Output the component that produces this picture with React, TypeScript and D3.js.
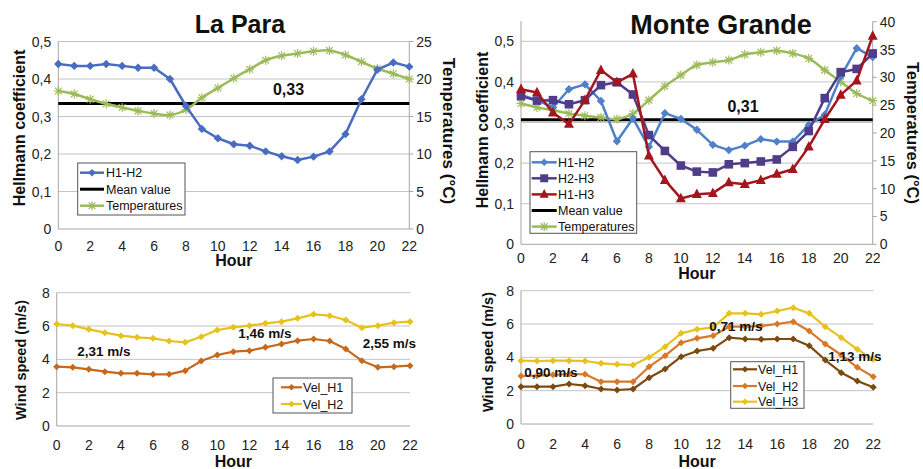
import React from "react";
import * as d3 from "d3";

// ---------- DATA ----------
const hours = [0, 1, 2, 3, 4, 5, 6, 7, 8, 9, 10, 11, 12, 13, 14, 15, 16, 17, 18, 19, 20, 21, 22];
const xTickLabels = [0, 2, 4, 6, 8, 10, 12, 14, 16, 18, 20, 22];

const hellTicksLP = [0, 0.1, 0.2, 0.3, 0.4, 0.5];
const tempTicksLP = [0, 5, 10, 15, 20, 25];
const hellTicksMG = [0, 0.1, 0.2, 0.3, 0.4, 0.5];
const tempTicksMG = [0, 5, 10, 15, 20, 25, 30, 35, 40];
const windTicks = [0, 2, 4, 6, 8];

const lpH1H2 = [0.44, 0.435, 0.435, 0.44, 0.435, 0.43, 0.43, 0.4, 0.328, 0.267, 0.242, 0.226, 0.222, 0.207, 0.194, 0.184, 0.193, 0.207, 0.253, 0.346, 0.425, 0.444, 0.433];
const lpTemp = [18.4, 18.0, 17.3, 16.7, 16.2, 15.75, 15.4, 15.2, 15.9, 17.5, 18.8, 20.1, 21.3, 22.5, 23.1, 23.4, 23.7, 23.8, 23.2, 22.3, 21.4, 20.7, 20.0];
const lpMean = 0.335;
const lpMeanLabel = "0,33";

const mgH1H2 = [0.368, 0.355, 0.337, 0.382, 0.394, 0.353, 0.254, 0.31, 0.24, 0.323, 0.309, 0.282, 0.245, 0.232, 0.243, 0.259, 0.253, 0.253, 0.294, 0.319, 0.413, 0.483, 0.461];
const mgH2H3 = [0.365, 0.354, 0.355, 0.345, 0.355, 0.392, 0.399, 0.369, 0.269, 0.23, 0.194, 0.179, 0.177, 0.197, 0.2, 0.204, 0.209, 0.24, 0.279, 0.36, 0.424, 0.432, 0.47];
const mgH1H3 = [0.382, 0.374, 0.324, 0.296, 0.355, 0.429, 0.399, 0.42, 0.218, 0.158, 0.113, 0.123, 0.126, 0.152, 0.148, 0.158, 0.173, 0.185, 0.24, 0.308, 0.368, 0.403, 0.513];
const mgTemp = [25.3, 24.6, 24.1, 23.5, 23.1, 22.8, 22.5, 23.5, 25.9, 28.4, 30.4, 32.2, 32.7, 33.1, 34.1, 34.5, 34.8, 34.3, 33.4, 31.3, 29.2, 27.1, 25.8];
const mgMean = 0.307;
const mgMeanLabel = "0,31";

const lpVelH1 = [3.56, 3.52, 3.4, 3.26, 3.16, 3.16, 3.1, 3.1, 3.32, 3.9, 4.26, 4.46, 4.52, 4.72, 4.92, 5.12, 5.22, 5.1, 4.62, 3.92, 3.52, 3.56, 3.62];
const lpVelH2 = [6.12, 6.02, 5.8, 5.6, 5.42, 5.32, 5.26, 5.1, 5.02, 5.36, 5.76, 5.92, 6.02, 6.16, 6.26, 6.46, 6.7, 6.62, 6.36, 5.9, 6.02, 6.2, 6.26];
const lpWindLabels = ["2,31 m/s", "1,46 m/s", "2,55 m/s"];

const mgVelH1 = [2.24, 2.24, 2.24, 2.4, 2.3, 2.1, 2.04, 2.1, 2.78, 3.3, 4.04, 4.38, 4.54, 5.18, 5.1, 5.08, 5.1, 5.1, 4.7, 3.84, 3.08, 2.58, 2.2];
const mgVelH2 = [2.88, 2.9, 2.95, 3.0, 2.98, 2.54, 2.54, 2.54, 3.44, 4.1, 4.88, 5.14, 5.3, 5.84, 5.84, 5.88, 6.0, 6.14, 5.58, 4.8, 4.14, 3.4, 2.84];
const mgVelH3 = [3.8, 3.78, 3.8, 3.8, 3.78, 3.64, 3.58, 3.54, 4.0, 4.64, 5.44, 5.68, 5.8, 6.64, 6.64, 6.58, 6.78, 6.98, 6.64, 5.84, 5.18, 4.48, 3.88];
const mgWindLabels = ["0,90 m/s", "0,71 m/s", "1,13 m/s"];

// ---------- STYLE ----------
const FONT = "'Liberation Sans', Arial, sans-serif";
const GRID = "#c4c4c4";
const AXIS = "#a6a6a6";
const C_BLUE_LP = "#4a6cc0";
const C_BLUE_MG = "#4f81c9";
const C_PURPLE = "#4f3d8a";
const C_RED = "#a3161e";
const C_GREEN = "#9bbb59";
const C_ORANGE = "#c4691e";
const C_YELLOW = "#e6c21e";
const C_BROWN = "#7b4a12";
const C_ORANGE2 = "#d6792a";

type Marker = "diamond" | "square" | "triangle" | "star" | "none";

function markerPath(m: Marker, s: number): string {
  if (m === "diamond") return `M0,${-s}L${s},0L0,${s}L${-s},0Z`;
  if (m === "square") return `M${-s},${-s}H${s}V${s}H${-s}Z`;
  if (m === "triangle") return `M0,${-s * 1.15}L${s},${s * 0.75}L${-s},${s * 0.75}Z`;
  if (m === "star") return `M${-s},0H${s}M0,${-s}V${s}M${-s * 0.75},${-s * 0.75}L${s * 0.75},${s * 0.75}M${-s * 0.75},${s * 0.75}L${s * 0.75},${-s * 0.75}`;
  return "";
}

function MarkerShape({ m, s, color, x, y }: { m: Marker; s: number; color: string; x: number; y: number }) {
  if (m === "none") return null;
  const d = markerPath(m, s);
  if (m === "star") return <path d={d} transform={`translate(${x},${y})`} stroke={color} strokeWidth={1.2} fill="none" />;
  return <path d={d} transform={`translate(${x},${y})`} fill={color} stroke="none" />;
}

type Series = { values: number[]; color: string; marker: Marker; ms: number; width: number; smooth?: boolean; axis?: "left" | "right" };

const fmtDec = (d: number) => (d === 0 ? "0" : d.toFixed(1).replace(".", ","));

function Series({ s, x, yl, yr }: { s: Series; x: d3.ScaleLinear<number, number>; yl: d3.ScaleLinear<number, number>; yr?: d3.ScaleLinear<number, number> }) {
  const y = s.axis === "right" && yr ? yr : yl;
  const line = d3
    .line<number>()
    .x((_, i) => x(hours[i]))
    .y((v) => y(v))
    .curve(s.smooth ? d3.curveCatmullRom.alpha(0.5) : d3.curveLinear);
  return (
    <g>
      <path d={line(s.values) || ""} fill="none" stroke={s.color} strokeWidth={s.width} strokeLinejoin="round" />
      {s.values.map((v, i) => (
        <MarkerShape key={i} m={s.marker} s={s.ms} color={s.color} x={x(hours[i])} y={y(v)} />
      ))}
    </g>
  );
}

type LegendItem = { label: string; color: string; marker: Marker; ms: number; width: number };

function Legend({ box, items, ys, lineX, textX }: { box: [number, number, number, number]; items: LegendItem[]; ys: number[]; lineX: [number, number]; textX: number }) {
  return (
    <g>
      <rect x={box[0]} y={box[1]} width={box[2] - box[0]} height={box[3] - box[1]} fill="#fff" stroke="#555" strokeWidth={1} />
      {items.map((it, i) => (
        <g key={i}>
          <line x1={lineX[0]} x2={lineX[1]} y1={ys[i]} y2={ys[i]} stroke={it.color} strokeWidth={it.width} />
          <MarkerShape m={it.marker} s={it.ms} color={it.color} x={(lineX[0] + lineX[1]) / 2} y={ys[i]} />
          <text x={textX} y={ys[i] + 4.5} fontSize={12.5} fontFamily={FONT} fill="#111">
            {it.label}
          </text>
        </g>
      ))}
    </g>
  );
}

type PanelProps = {
  xr: [number, number];
  y0: number;
  yTop: number;
  leftDomain: [number, number];
  leftTicks: number[];
  leftFmt: (d: number) => string;
  gridTicks: number[];
  rightDomain?: [number, number];
  rightTicks?: number[];
  rightTop?: number;
  xLabelDy: number;
  hourY: number;
  leftTitle: string;
  leftTitleX: number;
  leftTitleY: number;
  leftTitleSize: number;
  rightTitle?: string;
  rightTitleX?: number;
  rightTitleY?: number;
  rightTitleSize?: number;
  series: Series[];
  children?: (x: d3.ScaleLinear<number, number>, yl: d3.ScaleLinear<number, number>) => React.ReactNode;
  before?: (x: d3.ScaleLinear<number, number>, yl: d3.ScaleLinear<number, number>) => React.ReactNode;
};

function Panel(p: PanelProps) {
  const x = d3.scaleLinear().domain([0, 22]).range(p.xr);
  const yl = d3.scaleLinear().domain(p.leftDomain).range([p.y0, p.yTop]);
  const yr = p.rightDomain ? d3.scaleLinear().domain(p.rightDomain).range([p.y0, p.rightTop ?? p.yTop]) : undefined;
  const [xl, xrr] = p.xr;
  return (
    <g fontFamily={FONT}>
      {p.gridTicks.map((t) => (
        <line key={t} x1={xl} x2={xrr} y1={yl(t)} y2={yl(t)} stroke={GRID} strokeWidth={1} />
      ))}
      <line x1={xl} x2={xrr} y1={p.y0} y2={p.y0} stroke={AXIS} strokeWidth={1} />
      <line x1={xl} x2={xl} y1={p.y0} y2={p.yTop} stroke={AXIS} strokeWidth={1} />
      {yr && p.rightTicks && (
        <g>
          <line x1={xrr} x2={xrr} y1={p.y0} y2={yr(p.rightDomain![1])} stroke={AXIS} strokeWidth={1} />
          {p.rightTicks.map((t) => (
            <g key={t}>
              <line x1={xrr} x2={xrr + 4} y1={yr(t)} y2={yr(t)} stroke={AXIS} />
              <text x={xrr + 7} y={yr(t) + 5} fontSize={14} fill="#222">
                {t}
              </text>
            </g>
          ))}
        </g>
      )}
      {p.leftTicks.map((t) => (
        <text key={t} x={xl - 7} y={yl(t) + 5} fontSize={14} textAnchor="end" fill="#222">
          {p.leftFmt(t)}
        </text>
      ))}
      {xTickLabels.map((t) => (
        <text key={t} x={x(t)} y={p.y0 + p.xLabelDy} fontSize={14} textAnchor="middle" fill="#222">
          {t}
        </text>
      ))}
      <text x={(xl + xrr) / 2} y={p.hourY} fontSize={16} fontWeight="bold" textAnchor="middle" fill="#111">
        Hour
      </text>
      <text
        transform={`translate(${p.leftTitleX},${p.leftTitleY}) rotate(-90)`}
        fontSize={p.leftTitleSize}
        fontWeight="bold"
        textAnchor="middle"
        dominantBaseline="central"
        fill="#111"
      >
        {p.leftTitle}
      </text>
      {p.rightTitle && (
        <text
          transform={`translate(${p.rightTitleX},${p.rightTitleY}) rotate(90)`}
          fontSize={p.rightTitleSize ?? 17}
          fontWeight="bold"
          textAnchor="middle"
          dominantBaseline="central"
          fill="#111"
        >
          {p.rightTitle}
        </text>
      )}
      {p.before && p.before(x, yl)}
      {p.series.map((s, i) => (
        <Series key={i} s={s} x={x} yl={yl} yr={yr} />
      ))}
      {p.children && p.children(x, yl)}
    </g>
  );
}

export default function App() {
  const lpTop: Series[] = [
    { values: lpTemp, color: C_GREEN, marker: "star", ms: 4.5, width: 2.5, smooth: true, axis: "right" },
    { values: lpH1H2, color: C_BLUE_LP, marker: "diamond", ms: 4.2, width: 2.5 },
  ];
  const mgTop: Series[] = [
    { values: mgTemp, color: C_GREEN, marker: "star", ms: 4.5, width: 2.5, smooth: true, axis: "right" },
    { values: mgH1H2, color: C_BLUE_MG, marker: "diamond", ms: 4.2, width: 2.5 },
    { values: mgH2H3, color: C_PURPLE, marker: "square", ms: 4.3, width: 2.5 },
    { values: mgH1H3, color: C_RED, marker: "triangle", ms: 5, width: 2.5 },
  ];
  const lpBot: Series[] = [
    { values: lpVelH1, color: C_ORANGE, marker: "diamond", ms: 3.5, width: 2.2 },
    { values: lpVelH2, color: C_YELLOW, marker: "diamond", ms: 3.5, width: 2.2 },
  ];
  const mgBot: Series[] = [
    { values: mgVelH1, color: C_BROWN, marker: "diamond", ms: 3.5, width: 2.2 },
    { values: mgVelH2, color: C_ORANGE2, marker: "diamond", ms: 3.5, width: 2.2 },
    { values: mgVelH3, color: C_YELLOW, marker: "diamond", ms: 3.5, width: 2.2 },
  ];

  return (
    <svg width={923} height={469} style={{ position: "absolute", left: 0, top: 0, background: "#fff" }}>
      <rect width={923} height={469} fill="#fff" />
      {/* Titles */}
      <text x={240} y={33} fontSize={25} fontWeight="bold" textAnchor="middle" fontFamily={FONT} fill="#111">
        La Para
      </text>
      <text x={721} y={34} fontSize={27} fontWeight="bold" textAnchor="middle" fontFamily={FONT} fill="#111">
        Monte Grande
      </text>

      {/* Top-left: La Para Hellmann */}
      <Panel
        xr={[58.3, 409.3]}
        y0={229}
        yTop={41.5}
        leftDomain={[0, 0.5]}
        leftTicks={hellTicksLP}
        leftFmt={fmtDec}
        gridTicks={[0.1, 0.2, 0.3, 0.4, 0.5]}
        rightDomain={[0, 25]}
        rightTicks={tempTicksLP}
        xLabelDy={22}
        hourY={266}
        leftTitle="Hellmann coefficient"
        leftTitleX={19}
        leftTitleY={128}
        leftTitleSize={16}
        rightTitle="Temperatures (°C)"
        rightTitleX={448}
        rightTitleY={131}
        series={lpTop}
        before={(x, yl) => (
          <line x1={58.3} x2={409.3} y1={yl(lpMean)} y2={yl(lpMean)} stroke="#000" strokeWidth={3} />
        )}
      >
        {(x, yl) => (
          <g>
            <text x={288.5} y={yl(lpMean) - 8} fontSize={16} fontWeight="bold" textAnchor="middle" fill="#111">
              {lpMeanLabel}
            </text>
            <Legend
              box={[77.7, 163, 185, 215]}
              ys={[172.7, 189.2, 205.7]}
              lineX={[80, 104]}
              textX={106}
              items={[
                { label: "H1-H2", color: C_BLUE_LP, marker: "diamond", ms: 3.8, width: 2.5 },
                { label: "Mean value", color: "#000", marker: "none", ms: 0, width: 3 },
                { label: "Temperatures", color: C_GREEN, marker: "star", ms: 4.5, width: 2.5 },
              ]}
            />
          </g>
        )}
      </Panel>

      {/* Top-right: Monte Grande Hellmann */}
      <Panel
        xr={[521, 872.7]}
        y0={244.3}
        yTop={21}
        leftDomain={[0, 0.55]}
        leftTicks={hellTicksMG}
        leftFmt={fmtDec}
        gridTicks={[0.1, 0.2, 0.3, 0.4, 0.5]}
        rightDomain={[0, 40]}
        rightTicks={tempTicksMG}
        rightTop={21.7}
        xLabelDy={19}
        hourY={279}
        leftTitle="Hellmann coefficient"
        leftTitleX={482}
        leftTitleY={130}
        leftTitleSize={16}
        rightTitle="Temperatures (°C)"
        rightTitleX={913}
        rightTitleY={133}
        rightTitleSize={16.5}
        series={mgTop}
        before={(x, yl) => (
          <line x1={521} x2={872.7} y1={yl(mgMean)} y2={yl(mgMean)} stroke="#000" strokeWidth={3} />
        )}
      >
        {(x, yl) => (
          <g>
            <text x={743} y={yl(mgMean) - 8} fontSize={16} fontWeight="bold" textAnchor="middle" fill="#111">
              {mgMeanLabel}
            </text>
            <Legend
              box={[530, 151.7, 636.7, 233.3]}
              ys={[162.3, 178.3, 194.4, 210.5, 226.6]}
              lineX={[531.7, 556.7]}
              textX={558}
              items={[
                { label: "H1-H2", color: C_BLUE_MG, marker: "diamond", ms: 3.8, width: 2.5 },
                { label: "H2-H3", color: C_PURPLE, marker: "square", ms: 4, width: 2.5 },
                { label: "H1-H3", color: C_RED, marker: "triangle", ms: 4.6, width: 2.5 },
                { label: "Mean value", color: "#000", marker: "none", ms: 0, width: 3 },
                { label: "Temperatures", color: C_GREEN, marker: "star", ms: 4.5, width: 2.5 },
              ]}
            />
          </g>
        )}
      </Panel>

      {/* Bottom-left: La Para wind */}
      <Panel
        xr={[56.7, 410]}
        y0={426}
        yTop={292.7}
        leftDomain={[0, 8]}
        leftTicks={windTicks}
        leftFmt={(d) => String(d)}
        gridTicks={[2, 4, 6, 8]}
        xLabelDy={23.5}
        hourY={467}
        leftTitle="Wind speed (m/s)"
        leftTitleX={21}
        leftTitleY={360}
        leftTitleSize={14.5}
        series={lpBot}
      >
        {() => (
          <g>
            <text x={104} y={356} fontSize={13.5} fontWeight="bold" textAnchor="middle" fill="#111">
              {lpWindLabels[0]}
            </text>
            <text x={265} y={338} fontSize={13.5} fontWeight="bold" textAnchor="middle" fill="#111">
              {lpWindLabels[1]}
            </text>
            <text x={389.5} y={348} fontSize={13.5} fontWeight="bold" textAnchor="middle" fill="#111">
              {lpWindLabels[2]}
            </text>
            <Legend
              box={[273, 378, 352, 413]}
              ys={[387.3, 404]}
              lineX={[281, 302]}
              textX={303}
              items={[
                { label: "Vel_H1", color: C_ORANGE, marker: "diamond", ms: 3.3, width: 2.2 },
                { label: "Vel_H2", color: C_YELLOW, marker: "diamond", ms: 3.3, width: 2.2 },
              ]}
            />
          </g>
        )}
      </Panel>

      {/* Bottom-right: Monte Grande wind */}
      <Panel
        xr={[521, 873.3]}
        y0={424}
        yTop={290.7}
        leftDomain={[0, 8]}
        leftTicks={windTicks}
        leftFmt={(d) => String(d)}
        gridTicks={[2, 4, 6, 8]}
        xLabelDy={25}
        hourY={467}
        leftTitle="Wind speed (m/s)"
        leftTitleX={488}
        leftTitleY={352}
        leftTitleSize={14.5}
        series={mgBot}
      >
        {() => (
          <g>
            <text x={551} y={376.7} fontSize={13.5} fontWeight="bold" textAnchor="middle" fill="#111">
              {mgWindLabels[0]}
            </text>
            <text x={736} y={330.7} fontSize={13.5} fontWeight="bold" textAnchor="middle" fill="#111">
              {mgWindLabels[1]}
            </text>
            <text x={855} y={360.7} fontSize={13.5} fontWeight="bold" textAnchor="middle" fill="#111">
              {mgWindLabels[2]}
            </text>
            <Legend
              box={[730.7, 361.7, 804, 408.3]}
              ys={[369.3, 386, 401.7]}
              lineX={[733, 757]}
              textX={758}
              items={[
                { label: "Vel_H1", color: C_BROWN, marker: "diamond", ms: 3.3, width: 2.2 },
                { label: "Vel_H2", color: C_ORANGE2, marker: "diamond", ms: 3.3, width: 2.2 },
                { label: "Vel_H3", color: C_YELLOW, marker: "diamond", ms: 3.3, width: 2.2 },
              ]}
            />
          </g>
        )}
      </Panel>
    </svg>
  );
}
